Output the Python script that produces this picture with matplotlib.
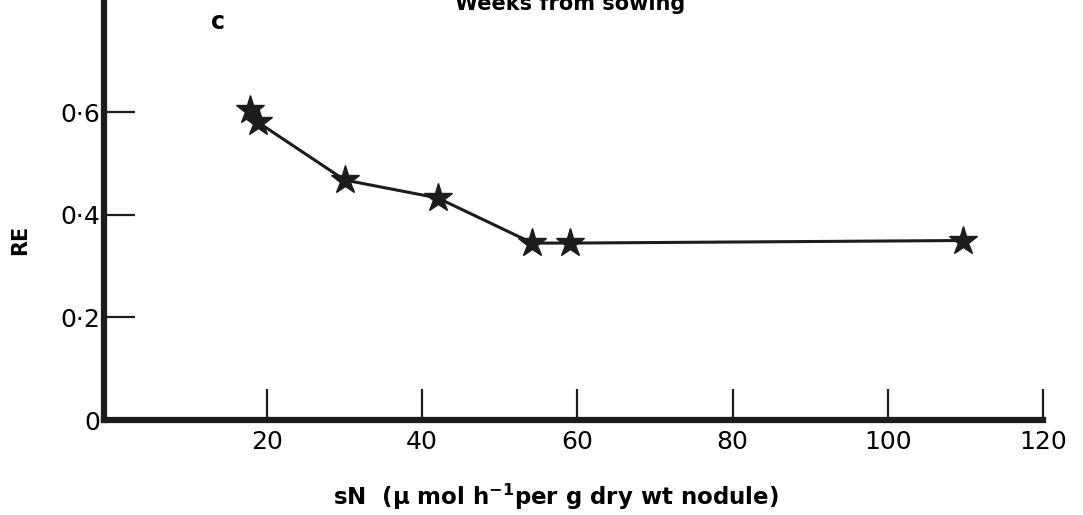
# RE against sN, panel c (scanned figure recreation)

import matplotlib.pyplot as plt

plt.rcParams['font.family'] = ['DejaVu Sans']
plt.rcParams['mathtext.fontset'] = 'custom'
plt.rcParams['mathtext.rm'] = 'DejaVu Sans:bold'
plt.rcParams['mathtext.default'] = 'rm'

# data
sn_values = [17.8, 18.8, 30.0, 42.0, 54.2, 59.1, 109.7]
re_values = [0.604, 0.581, 0.468, 0.433, 0.345, 0.345, 0.35]

x_ticks = [20, 40, 60, 80, 100, 120]
y_ticks = [0, 0.2, 0.4, 0.6]
y_tick_labels = ['0', '0·2', '0·4', '0·6']

ink = '#1c1c1c'

fig = plt.figure(figsize=(10.83, 5.15), dpi=100)
ax = fig.add_axes([104 / 1083, 95 / 515, (1043 - 104) / 1083, 420 / 515])

ax.plot(sn_values, re_values, color=ink, linewidth=2.2, marker='*',
        markersize=21, markerfacecolor=ink, markeredgecolor=ink, clip_on=False)

ax.set_xlim(-1, 120)
ax.set_ylim(0, 0.819)

ax.spines['top'].set_visible(False)
ax.spines['right'].set_visible(False)
for side in ['left', 'bottom']:
    ax.spines[side].set_linewidth(4.5)
    ax.spines[side].set_color(ink)

ax.set_xticks(x_ticks)
ax.set_xticklabels([str(t) for t in x_ticks])
ax.set_yticks(y_ticks)
ax.set_yticklabels(y_tick_labels)
ax.tick_params(axis='both', direction='in', length=22, width=1.6,
               colors=ink, labelsize=18, labelcolor='black')
ax.tick_params(axis='x', pad=7)
ax.tick_params(axis='y', pad=3)

fig.text(20 / 1083, 1 - 240 / 515, 'RE', rotation=90, fontsize=15,
         fontweight='bold', ha='center', va='center')
fig.text(218 / 1083, 1 - 22 / 515, 'c', fontsize=17, fontweight='bold',
         ha='center', va='center')
# title of the panel above, cut off by the scan
fig.text(570 / 1083, 1 - 10 / 515, 'Weeks from sowing', fontsize=15,
         fontweight='bold', ha='center', va='baseline')
fig.text(556 / 1083, 1 - 497 / 515,
         r'sN  (µ mol h$^{-1}$per g dry wt nodule)', fontsize=16.5,
         fontweight='bold', ha='center', va='center')

plt.savefig('out.png', dpi=100)
plt.close()
